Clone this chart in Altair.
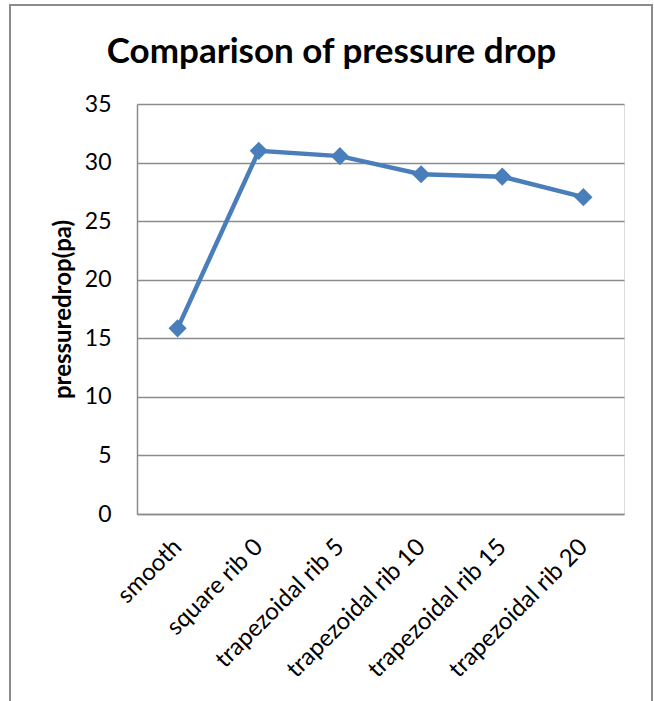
import altair as alt
import pandas as pd

categories = ["smooth", "square rib 0", "trapezoidal rib 5", "trapezoidal rib 10",
              "trapezoidal rib 15", "trapezoidal rib 20"]
pressure = [15.85, 31.0, 30.55, 29.0, 28.8, 27.05]
y_ticks = [0, 5, 10, 15, 20, 25, 30, 35]

df = pd.DataFrame({"category": categories, "pressure": pressure})

FONT = "Lato"
BLUE = "#4A7EBB"
GRID = "#8C8C8C"

base = alt.Chart(df).encode(
    x=alt.X("category:N", sort=categories, title=None,
            scale=alt.Scale(paddingInner=0, paddingOuter=0.5),
            axis=alt.Axis(labelAngle=-45, labelAlign="right", labelBaseline="middle",
                          labelFontSize=24, labelFont=FONT, labelColor="#000000",
                          labelPadding=29, ticks=False, domainColor=GRID,
                          domainWidth=1.5, grid=False, labelOverlap=False,
                          labelLimit=400)),
    y=alt.Y("pressure:Q", title="pressuredrop(pa)",
            scale=alt.Scale(domain=[0, 35], nice=False),
            axis=alt.Axis(values=y_ticks, labelFontSize=23, labelFont=FONT,
                          labelColor="#000000", labelPadding=26, ticks=False,
                          domainColor=GRID, domainWidth=1.5, gridColor=GRID,
                          gridWidth=1.5, titleFont=FONT, titleFontSize=24,
                          titleFontWeight="bold", titleColor="#000000",
                          titlePadding=9, titleY=205, titleAlign="center")),
)

line = base.mark_line(color=BLUE, strokeWidth=4.5)
points = base.mark_point(shape="diamond", filled=True, color=BLUE, size=330, opacity=1)

border = alt.Chart(df).mark_rect(fill=None, stroke=GRID, strokeWidth=1.5).encode(
    x=alt.value(-127), x2=alt.value(515), y=alt.value(-99), y2=alt.value(620)
)

chart = alt.layer(border, line, points).properties(
    width=487, height=410,
    title=alt.Title("Comparison of pressure drop", font=FONT, fontSize=35,
                    fontWeight="bold", color="#000000", anchor="middle", dx=-49,
                    offset=0, dy=66),
    autosize=alt.AutoSizeParams(type="none"),
    padding={"left": 137, "top": 104, "right": 30, "bottom": 187},
).configure_view(stroke=None).configure(background="white")

chart.save("out.html", embed_options={"renderer": "svg", "actions": False})
